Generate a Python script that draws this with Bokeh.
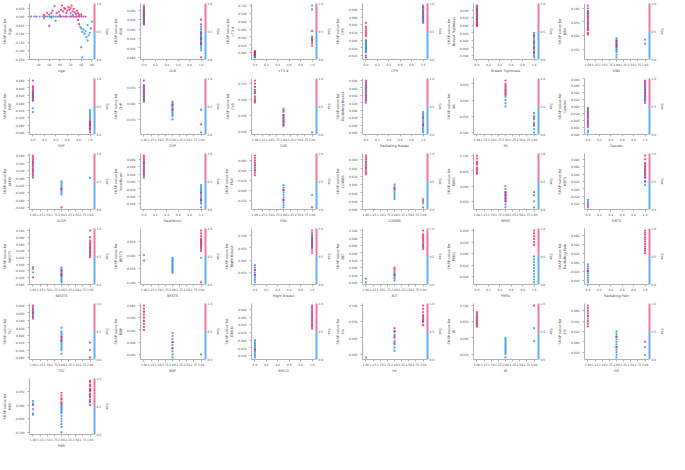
from bokeh.plotting import figure
from bokeh.layouts import gridplot
from bokeh.models import (ColumnDataSource, ColorBar, LinearColorMapper, FixedTicker,
                          PrintfTickFormatter, LinearAxis, Range1d, BasicTicker)
from bokeh.embed import file_html
from bokeh.resources import INLINE

# ---------------- data ----------------
# panel 1: Age (continuous)
age_x = [33, 36, 38, 41, 44, 46, 48, 50, 52, 54, 56, 58, 60, 61, 63, 65, 66, 68, 70, 71, 73, 75, 76, 78, 80, 82, 84,
         45, 48, 50, 53, 55, 57, 59, 61, 62, 63, 64, 65, 66, 67, 68, 69, 70, 71, 72, 73, 74, 75, 76, 77, 78, 80,
         52, 60, 70, 72,
         45, 52, 56, 79, 80, 81, 82, 83, 84, 85, 86, 87, 88, 89, 90, 80, 86, 81,
         50, 77, 78]
age_shap = [0, 0, 0, 0, 0, 0, 0, 0, 0, 0, 0, 0, 0, 0, 0, 0, 0, 0, 0, 0, 0, 0, 0, 0, 0, 0, 0,
            0.01, 0.022, 0.012, 0.035, 0.062, 0.02, 0.028, 0.04, 0.065, 0.03, 0.05, 0.045, 0.02, 0.035, 0.055, 0.04,
            0.05, 0.065, 0.03, 0.045, 0.025, 0.015, 0.035, 0.02, 0.01, 0.012,
            0.02, 0.01, 0.02, 0.01,
            -0.01, -0.005, -0.025, -0.06, -0.07, -0.09, -0.075, -0.1, -0.085, -0.12, -0.05, -0.11, -0.095, -0.07,
            -0.03, -0.18, -0.14, -0.24,
            -0.055, -0.02, -0.045]
age_col = [0, 0, 1, 0, 0, 1, 0, 0, 1, 0, 0, 1, 0, 1, 0, 1, 1, 0, 1, 0, 1, 1, 0, 1, 1, 0, 1,
           1, 1, 1, 1, 1, 1, 1, 1, 1, 1, 1, 1, 1, 1, 1, 1, 1, 1, 1, 1, 1, 1, 1, 1, 1, 1,
           0, 0, 0, 0,
           0, 0, 0, 0, 0, 0, 0, 0, 0, 0, 0, 0, 0, 0, 0, 0, 0, 0,
           1, 1, 1]
age_ticks = [40, 50, 60, 70, 80, 90]

# other panels: strips of (feature value, interaction colour 1=high/0=low, SHAP values)
alb_strips = [(0, 1, [0.05, 0.046, 0.042, 0.04, 0.037, 0.035, 0.032, 0.03, 0.028, 0.025, 0.022, 0.02, 0.018, 0.015, 0.012, 0.01]),
              (0, 0, [0.045, 0.038, 0.03, 0.026, 0.02, 0.016]),
              (1, 0, [0.005, 0.0, -0.005, -0.01, -0.012, -0.015, -0.018, -0.02, -0.022, -0.025, -0.028, -0.03, -0.032, -0.035, -0.04, -0.045]),
              (1, 1, [0.02, 0.01, -0.008, -0.02, -0.03, -0.06])]
ct34_strips = [(0, 0, [-0.012, -0.01, -0.008, -0.006, -0.004, -0.002, 0.0, -0.009, -0.005, -0.011]),
               (0, 1, [0.004, 0.002, 0.0, -0.003, -0.007]),
               (1, 0, [0.12, 0.11, 0.035, 0.03]),
               (1, 1, [0.055, 0.04, 0.025, 0.018, 0.033])]
cps_strips = [(0, 0, [0.0, -0.003, -0.006, -0.009, -0.012, -0.015, -0.018, -0.02, -0.022, -0.025, -0.028, -0.032, -0.04]),
              (0, 1, [0.045, 0.035, 0.03, 0.025, 0.02, 0.015, 0.01, -0.045]),
              (1, 1, [0.09, 0.085, 0.08, 0.075, 0.07, 0.065, 0.06, 0.055, 0.05, 0.045]),
              (1, 0, [0.085, 0.075, 0.07, 0.062, 0.058, 0.05])]
tight_strips = [(0, 1, [0.052, 0.048, 0.045, 0.042, 0.04, 0.037, 0.034, 0.031, 0.028, 0.025, 0.022, 0.019, 0.016, 0.013, 0.01, 0.007, 0.004, 0.0, -0.002]),
                (0, 0, [0.045, 0.035, 0.025, 0.015, 0.005]),
                (1, 0, [-0.02, -0.025, -0.03, -0.035, -0.04, -0.045, -0.05, -0.055, -0.06, -0.065, -0.07, -0.075, -0.08, -0.085]),
                (1, 1, [-0.028, -0.045, -0.06, -0.072])]
dba_strips = [(1, 1, [0.11, 0.1, 0.09, 0.085, 0.08, 0.07, 0.065, 0.06, 0.05, 0.045, 0.04, 0.03, 0.025, 0.02, 0.01, 0.005]),
              (1, 0, [0.09, 0.075, 0.055, 0.035]),
              (2, 0, [-0.01, -0.015, -0.02, -0.025, -0.03, -0.035, -0.04, -0.045, -0.05, -0.055, -0.06, -0.07, -0.08]),
              (2, 1, [-0.02, -0.03, -0.04]),
              (3, 0, [-0.015, -0.03])]
pap_strips = [(0, 1, [0.06, 0.045, 0.04, 0.035, 0.03, 0.027, 0.024, 0.02, 0.017, 0.014, 0.01, 0.005]),
              (0, 0, [0.03, 0.022, 0.015, 0.008, -0.015, -0.025]),
              (1, 0, [-0.02, -0.025, -0.03, -0.035, -0.04, -0.045, -0.05, -0.055, -0.06, -0.07, -0.075]),
              (1, 1, [-0.05, -0.055, -0.06, -0.065, -0.07, -0.08])]
chp_strips = [(1, 1, [0.07, 0.055, 0.05, 0.045, 0.04, 0.035, 0.03, 0.025, 0.02, 0.015, 0.01, 0.005]),
              (1, 0, [0.055, 0.045, 0.035, 0.03, 0.02, 0.012]),
              (2, 0, [0.005, 0.0, -0.005, -0.01, -0.015, -0.02, -0.025, -0.03, -0.035, -0.04, -0.05]),
              (2, 1, [-0.005, -0.02]),
              (3, 0, [-0.02, -0.09]),
              (3, 1, [-0.065])]
cvs_strips = [(1, 1, [0.16, 0.15, 0.14, 0.13, 0.125, 0.12, 0.11, 0.1, 0.095, 0.09]),
              (1, 0, [0.14, 0.12, 0.105]),
              (2, 0, [0.07, 0.06, 0.05, 0.045, 0.04, 0.035, 0.03, 0.025, 0.02, 0.015]),
              (2, 1, [0.065, 0.05, 0.04, 0.03, 0.02]),
              (3, 0, [-0.005])]
radb_strips = [(0, 1, [0.08, 0.075, 0.07, 0.065, 0.06, 0.055, 0.05, 0.045, 0.04, 0.035, 0.03, 0.025]),
               (0, 0, [0.07, 0.06, 0.05, 0.04, 0.03, 0.02]),
               (1, 0, [-0.005, -0.01, -0.015, -0.02, -0.025, -0.03, -0.035, -0.04, -0.045, -0.05, -0.055, -0.06]),
               (1, 1, [-0.02, -0.04])]
mi_strips = [(2, 1, [0.06, 0.05, 0.045, 0.04, 0.035, 0.03, 0.025, 0.02, 0.015]),
             (2, 0, [0.03, 0.02, 0.01, 0.0, -0.01, -0.02]),
             (3, 0, [-0.04, -0.05, -0.06, -0.07, -0.08, -0.09, -0.1]),
             (3, 1, [-0.055, -0.075])]
gender_strips = [(0, 1, [-0.005, -0.01, -0.015, -0.02, -0.025, -0.03, -0.035, -0.04, -0.045, -0.05, -0.055]),
                 (0, 0, [-0.008, -0.02, -0.03, -0.045, -0.06, -0.07, -0.075]),
                 (1, 1, [0.075, 0.07, 0.065, 0.06, 0.055, 0.05, 0.045, 0.04, 0.035, 0.03, 0.025, 0.02, 0.015]),
                 (1, 0, [0.07, 0.06, 0.05, 0.04, 0.03, 0.02, 0.01])]
alds_strips = [(1, 1, [0.06, 0.055, 0.05, 0.045, 0.04, 0.035, 0.03, 0.025, 0.02, 0.015, 0.01, 0.005]),
               (1, 0, [0.04, 0.02, 0.0]),
               (2, 0, [-0.01, -0.015, -0.02, -0.025, -0.03, -0.035, -0.04, -0.045]),
               (2, 1, [-0.03, -0.08]),
               (3, 0, [0.0])]
heartburn_strips = [(0, 1, [0.07, 0.065, 0.06, 0.055, 0.05, 0.045, 0.04, 0.035, 0.03, 0.025, 0.02, 0.015]),
                    (0, 0, [0.05, 0.04, 0.03, 0.02, 0.01]),
                    (1, 0, [-0.01, -0.015, -0.02, -0.025, -0.03, -0.035, -0.04, -0.045, -0.05, -0.055, -0.06, -0.07]),
                    (1, 1, [-0.03, -0.05])]
fna_strips = [(1, 1, [0.07, 0.065, 0.06, 0.055, 0.05, 0.045, 0.04, 0.035, 0.03]),
              (1, 0, [0.05, 0.04]),
              (2, 0, [0.01, 0.005, 0.0, -0.005, -0.01, -0.015, -0.02, -0.025, -0.03, -0.035]),
              (2, 1, [0.0, -0.02]),
              (3, 1, [-0.035]),
              (3, 0, [-0.01])]
lowbs_strips = [(1, 1, [0.07, 0.065, 0.06, 0.055, 0.05, 0.045, 0.04, 0.035, 0.03, 0.025]),
                (1, 0, [0.055, 0.04]),
                (2, 0, [0.0, -0.005, -0.01, -0.015, -0.02, -0.025, -0.03, -0.035]),
                (2, 1, [-0.01]),
                (3, 0, [-0.035, -0.045, -0.055]),
                (3, 1, [-0.04])]
bmis_strips = [(1, 1, [0.1, 0.09, 0.08, 0.075, 0.07, 0.06, 0.055, 0.05, 0.045, 0.04]),
               (2, 0, [0.0, -0.01, -0.02, -0.025, -0.03, -0.035, -0.04, -0.045, -0.05, -0.06, -0.07]),
               (2, 1, [-0.02, -0.03, -0.04, -0.05]),
               (3, 0, [-0.03, -0.05, -0.07]),
               (3, 1, [-0.02])]
hbts_strips = [(0, 0, [-0.03, -0.04, -0.05, -0.035]),
               (0, 1, [-0.045]),
               (1, 1, [0.09, 0.08, 0.07, 0.065, 0.06, 0.055, 0.05, 0.045, 0.04, 0.035, 0.03, 0.02]),
               (1, 0, [0.06, 0.05, 0.04, 0.03, 0.02, 0.01])]
neots_strips = [(1, 1, [-0.01, -0.04]),
                (1, 0, [-0.015, -0.025]),
                (2, 0, [-0.01, -0.015, -0.02, -0.025, -0.03, -0.035, -0.04, -0.045, -0.05, -0.055]),
                (2, 1, [-0.02, -0.03, -0.035]),
                (3, 1, [0.1, 0.08, 0.07, 0.065, 0.06, 0.055, 0.05, 0.045, 0.04, 0.035, 0.03, 0.025, 0.02]),
                (3, 0, [0.05, 0.035])]
bests_strips = [(1, 0, [0.0]),
                (1, 1, [-0.02]),
                (2, 0, [-0.01, -0.015, -0.02, -0.025, -0.03, -0.035, -0.04, -0.045, -0.05, -0.055, -0.06, -0.065]),
                (3, 1, [0.09, 0.08, 0.07, 0.06, 0.055, 0.05, 0.045, 0.04, 0.035, 0.03, 0.025, 0.015, -0.1]),
                (3, 0, [0.04, 0.02, -0.01])]
rbreast_strips = [(0, 0, [-0.02, -0.03, -0.04, -0.05, -0.06, -0.07, -0.08, -0.09]),
                  (0, 1, [-0.04, -0.06]),
                  (1, 1, [0.12, 0.11, 0.1, 0.09, 0.085, 0.08, 0.075, 0.07, 0.065, 0.06, 0.055, 0.05, 0.04, 0.03]),
                  (1, 0, [0.1, 0.09, 0.08, 0.07, 0.06, 0.05])]
blt_strips = [(1, 0, [-0.04, -0.03]),
              (2, 0, [-0.01, -0.015, -0.02, -0.025, -0.03, -0.035]),
              (2, 1, [0.0, -0.005, -0.02]),
              (3, 1, [0.1, 0.09, 0.085, 0.08, 0.075, 0.07, 0.065, 0.06, 0.055, 0.05]),
              (3, 0, [0.06])]
pmss_strips = [(1, 0, [-0.005, -0.01, -0.015, -0.02, -0.025, -0.03, -0.035, -0.04, -0.045, -0.05]),
               (1, 1, [0.04, 0.035, 0.03, 0.025, 0.02, 0.015])]
rpain_strips = [(0, 0, [-0.005, -0.01, -0.015, -0.02, -0.025, -0.03, -0.035, -0.04, -0.045]),
                (0, 1, [-0.02]),
                (1, 1, [0.07, 0.065, 0.06, 0.055, 0.05, 0.045, 0.04, 0.035, 0.03, 0.025, 0.02]),
                (1, 0, [0.03])]
tsc_strips = [(1, 1, [0.08, 0.075, 0.07, 0.065, 0.06, 0.055, 0.05, 0.045]),
              (1, 0, [0.07, 0.06, 0.05]),
              (2, 0, [0.02, 0.01, 0.005, 0.0, -0.005, -0.01, -0.015, -0.02, -0.025, -0.03, -0.035, -0.04, -0.05]),
              (2, 1, [-0.005, -0.015]),
              (3, 1, [-0.02, -0.06]),
              (3, 0, [-0.04])]
bbp_strips = [(1, 1, [0.06, 0.055, 0.05, 0.045, 0.04, 0.035, 0.03, 0.025, 0.02]),
              (1, 0, [0.05, 0.035]),
              (2, 0, [0.015, 0.01, 0.005, 0.0, -0.005, -0.01, -0.015, -0.02, -0.025]),
              (2, 1, [0.0, -0.01]),
              (3, 0, [-0.02])]
bmid_strips = [(0, 0, [0.0, -0.005, -0.01, -0.015, -0.02, -0.025, -0.03, -0.035, -0.04, -0.045]),
               (0, 1, [-0.025]),
               (1, 1, [0.09, 0.085, 0.08, 0.075, 0.07, 0.065, 0.06, 0.055, 0.05, 0.045, 0.04, 0.035, 0.03]),
               (1, 0, [0.06, 0.04])]
hx_strips = [(1, 0, [-0.06]),
             (2, 0, [0.02, 0.01, 0.0, -0.01, -0.02, -0.03, -0.04]),
             (2, 1, [0.03, 0.02, 0.005, -0.015]),
             (3, 1, [0.1, 0.09, 0.08, 0.07, 0.065, 0.06, 0.055, 0.05, 0.04]),
             (3, 0, [0.07, 0.05])]
w_strips = [(1, 1, [0.08, 0.075, 0.07, 0.065, 0.06, 0.055, 0.05, 0.045, 0.04, 0.035]),
            (1, 0, [0.06, 0.045]),
            (2, 0, [0.0, -0.005, -0.01, -0.015, -0.02, -0.025, -0.03, -0.035, -0.04, -0.045, -0.05, -0.06]),
            (3, 0, [0.03, -0.01]),
            (3, 1, [0.1])]
hs_strips = [(1, 1, [0.07, 0.065, 0.06, 0.055, 0.05, 0.045, 0.04, 0.035, 0.03]),
             (1, 0, [0.05]),
             (2, 0, [0.02, 0.015, 0.01, 0.005, 0.0, -0.005, -0.01, -0.015, -0.02, -0.025, -0.03]),
             (2, 1, [0.01, -0.01]),
             (3, 0, [-0.01, -0.025]),
             (3, 1, [0.0])]
rbs_strips = [(1, 0, [0.015, 0.005, -0.015, -0.03, -0.035]),
              (1, 1, [0.0]),
              (2, 1, [0.045, 0.035, 0.025, 0.02, 0.01, 0.005]),
              (2, 0, [0.0, -0.005, -0.01, -0.015, -0.02, -0.025, -0.03, -0.04, -0.05, -0.06, -0.07, -0.08, -0.1]),
              (3, 1, [0.09, 0.085, 0.075, 0.07, 0.06, 0.055, 0.05, 0.04, 0.035, 0.03, 0.02, 0.01, 0.0]),
              (3, 0, [0.03, 0.015])]

feature_names = ["Age", "ALB", "cT3-4", "CPS", "Breast Tightness", "DBA",
                 "PAP", "CHP", "CVS", "Radiating Breast", "MI", "Gender",
                 "ALDS", "Heartburn", "FNA", "LOWBS", "BMIS", "HBTS",
                 "NEOTS", "BESTS", "Right Breast", "BLT", "PMSs", "Radiating Pain",
                 "TSC", "BBP", "BMI-D", "Hx", "W", "HS",
                 "RBS"]
feature_kinds = ["num", "bin", "bin", "bin", "bin", "cat",
                 "bin", "cat", "cat", "bin", "cat", "bin",
                 "cat", "bin", "cat", "cat", "cat", "bin",
                 "cat", "cat", "bin", "cat", "bin", "bin",
                 "cat", "cat", "bin", "cat", "cat", "cat",
                 "cat"]
feature_strips = [None, alb_strips, ct34_strips, cps_strips, tight_strips, dba_strips,
                  pap_strips, chp_strips, cvs_strips, radb_strips, mi_strips, gender_strips,
                  alds_strips, heartburn_strips, fna_strips, lowbs_strips, bmis_strips, hbts_strips,
                  neots_strips, bests_strips, rbreast_strips, blt_strips, pmss_strips, rpain_strips,
                  tsc_strips, bbp_strips, bmid_strips, hx_strips, w_strips, hs_strips,
                  rbs_strips]
interaction_name = "Sex"
bin_ticks = [0.0, 0.2, 0.4, 0.6, 0.8, 1.0]
cat_ticks = [1.0, 1.25, 1.5, 1.75, 2.0, 2.25, 2.5, 2.75, 3.0]
cbar_ticks = [0.0, 0.5, 1.0]

# ---------------- style ----------------
PINK = "#ff0d57"
BLUE = "#1e88e5"
CB_PINK = "#f4779f"
CB_BLUE = "#63b1f0"
FONT = "DejaVu Sans"
W, H = 111, 75
TICK_FS = "3px"
LAB_FS = "3.5px"
AX_COL = "#b0b0b0"
TXT_COL = "#555555"


def make_fig(name, kind, xs, ys, cs):
    if kind == "bin":
        xr, ticks, fmt = Range1d(-0.06, 1.06), bin_ticks, "%.1f"
    elif kind == "cat":
        xr, ticks, fmt = Range1d(0.88, 3.12), cat_ticks, "%.2f"
    else:
        xr, ticks, fmt = Range1d(31.5, 91.5), age_ticks, "%d"
    p = figure(width=W, height=H, output_backend="svg", toolbar_location=None, x_range=xr)
    p.outline_line_color = None
    p.grid.visible = False
    p.min_border_left = 2
    p.min_border_right = 1
    p.min_border_top = 3
    p.min_border_bottom = 2
    p.y_range.range_padding = 0.08
    src = ColumnDataSource(dict(x=xs, y=ys, c=[PINK if c else BLUE for c in cs]))
    p.scatter("x", "y", source=src, size=2.3, color="c", alpha=0.75, line_width=0)

    p.xaxis.ticker = FixedTicker(ticks=ticks)
    p.xaxis.formatter = PrintfTickFormatter(format=fmt)
    p.yaxis.ticker = BasicTicker(desired_num_ticks=6)
    p.yaxis.formatter = PrintfTickFormatter(format="%.3f")
    p.xaxis.axis_label = name
    p.yaxis.axis_label = "SHAP value for\n" + name
    for ax in (p.xaxis, p.yaxis):
        ax.axis_line_color = AX_COL
        ax.axis_line_width = 1
        ax.major_tick_line_color = AX_COL
        ax.minor_tick_line_color = None
        ax.major_tick_out = 2
        ax.major_tick_in = 0
        ax.major_label_text_font_size = TICK_FS
        ax.major_label_text_color = TXT_COL
        ax.major_label_text_font = FONT
        ax.axis_label_text_font_size = LAB_FS
        ax.axis_label_text_font = FONT
        ax.axis_label_text_font_style = "normal"
        ax.axis_label_text_color = TXT_COL
        ax.axis_label_standoff = 0
        ax.major_label_standoff = 1

    mapper = LinearColorMapper(palette=[CB_BLUE, CB_PINK], low=0, high=1)
    cb = ColorBar(color_mapper=mapper, ticker=FixedTicker(ticks=cbar_ticks),
                  formatter=PrintfTickFormatter(format="%.1f"), width=2, padding=0, margin=3,
                  major_label_text_font_size=TICK_FS, major_label_text_color=TXT_COL,
                  major_label_text_font=FONT, major_tick_line_color=None,
                  bar_line_color=None, border_line_color=None, background_fill_alpha=0,
                  label_standoff=1)
    p.add_layout(cb, "right")
    lab = LinearAxis(axis_label=interaction_name, ticker=FixedTicker(ticks=[]),
                     axis_line_color=None, major_tick_line_color=None, minor_tick_line_color=None,
                     axis_label_text_font_size=LAB_FS, axis_label_text_font=FONT,
                     axis_label_text_font_style="normal", axis_label_text_color=TXT_COL,
                     axis_label_standoff=0, major_label_standoff=0)
    p.add_layout(lab, "right")
    return p


figs = []
for name, kind, strips in zip(feature_names, feature_kinds, feature_strips):
    if strips is None:
        xs, ys, cs = age_x, age_shap, age_col
    else:
        xs, ys, cs = [], [], []
        for xv, cv, yv in strips:
            for y in yv:
                xs.append(xv)
                ys.append(y)
                cs.append(cv)
    figs.append(make_fig(name, kind, xs, ys, cs))

grid = gridplot(figs, ncols=6, toolbar_location=None)
open("out.html", "w").write(file_html(grid, INLINE))
